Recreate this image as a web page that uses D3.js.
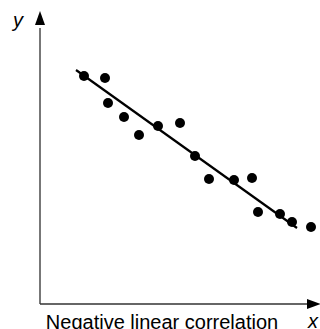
<!DOCTYPE html>
<html><head><meta charset="utf-8">
<script src="https://cdn.jsdelivr.net/npm/d3@7"></script>
<style>body{margin:0;background:#fff;overflow:hidden}svg{display:block}</style>
</head><body>
<script>
const xs = [4.4, 6.5, 6.8, 8.4, 9.9, 11.8, 14.0, 15.5, 16.9, 19.4, 21.2, 21.8, 24.0, 25.2, 27.1];
const ys = [22.8, 22.6, 20.1, 18.7, 16.9, 17.8, 18.1, 14.8, 12.5, 12.4, 12.6, 9.2, 9.0, 8.2, 7.7];
const fitX = [3.6, 25.7];
const fitY = [23.4, 7.6];
const caption = "Negative linear correlation";

const W = 320, H = 329;
const svg = d3.select("body").append("svg").attr("width", W).attr("height", H);
const x = d3.scaleLinear().domain([0, 28]).range([40, 320]);
const y = d3.scaleLinear().domain([0, 27]).range([304, 34]);

// axes
svg.append("line").attr("x1", x(0)).attr("y1", y(0)).attr("x2", x(0)).attr("y2", y(27.6))
  .attr("stroke", "#555").attr("stroke-width", 1.6);
svg.append("line").attr("x1", x(0)).attr("y1", y(0)).attr("x2", x(27.4)).attr("y2", y(0))
  .attr("stroke", "#333").attr("stroke-width", 1.6);
// arrowheads
const ax = x(0), ay = y(29.3);
svg.append("path").attr("d", `M${ax},${ay} L${ax-5},${ay+14} L${ax+5},${ay+14} Z`).attr("fill", "#000");
const bx = x(28.1), by = y(0);
svg.append("path").attr("d", `M${bx},${by} L${bx-14},${by-5} L${bx-14},${by+5} Z`).attr("fill", "#000");

// fit line
svg.append("line").attr("x1", x(fitX[0])).attr("y1", y(fitY[0])).attr("x2", x(fitX[1])).attr("y2", y(fitY[1]))
  .attr("stroke", "#000").attr("stroke-width", 2.2);

// points
svg.selectAll("circle.pt").data(xs.map((v, i) => [v, ys[i]])).enter().append("circle")
  .attr("class", "pt").attr("cx", d => x(d[0])).attr("cy", d => y(d[1])).attr("r", 5).attr("fill", "#000");

// labels
const ff = "Liberation Sans, Arial, Helvetica, sans-serif";
svg.append("text").attr("x", 18).attr("y", 27).attr("font-family", ff)
  .attr("font-style", "italic").attr("font-size", 20).attr("text-anchor", "middle").text("y");
svg.append("text").attr("x", 313).attr("y", 328).attr("font-family", ff)
  .attr("font-style", "italic").attr("font-size", 20).attr("text-anchor", "middle").text("x");
svg.append("text").attr("x", 162).attr("y", 329).attr("font-family", ff)
  .attr("font-size", 20).attr("text-anchor", "middle").text(caption);
</script>
</body></html>
